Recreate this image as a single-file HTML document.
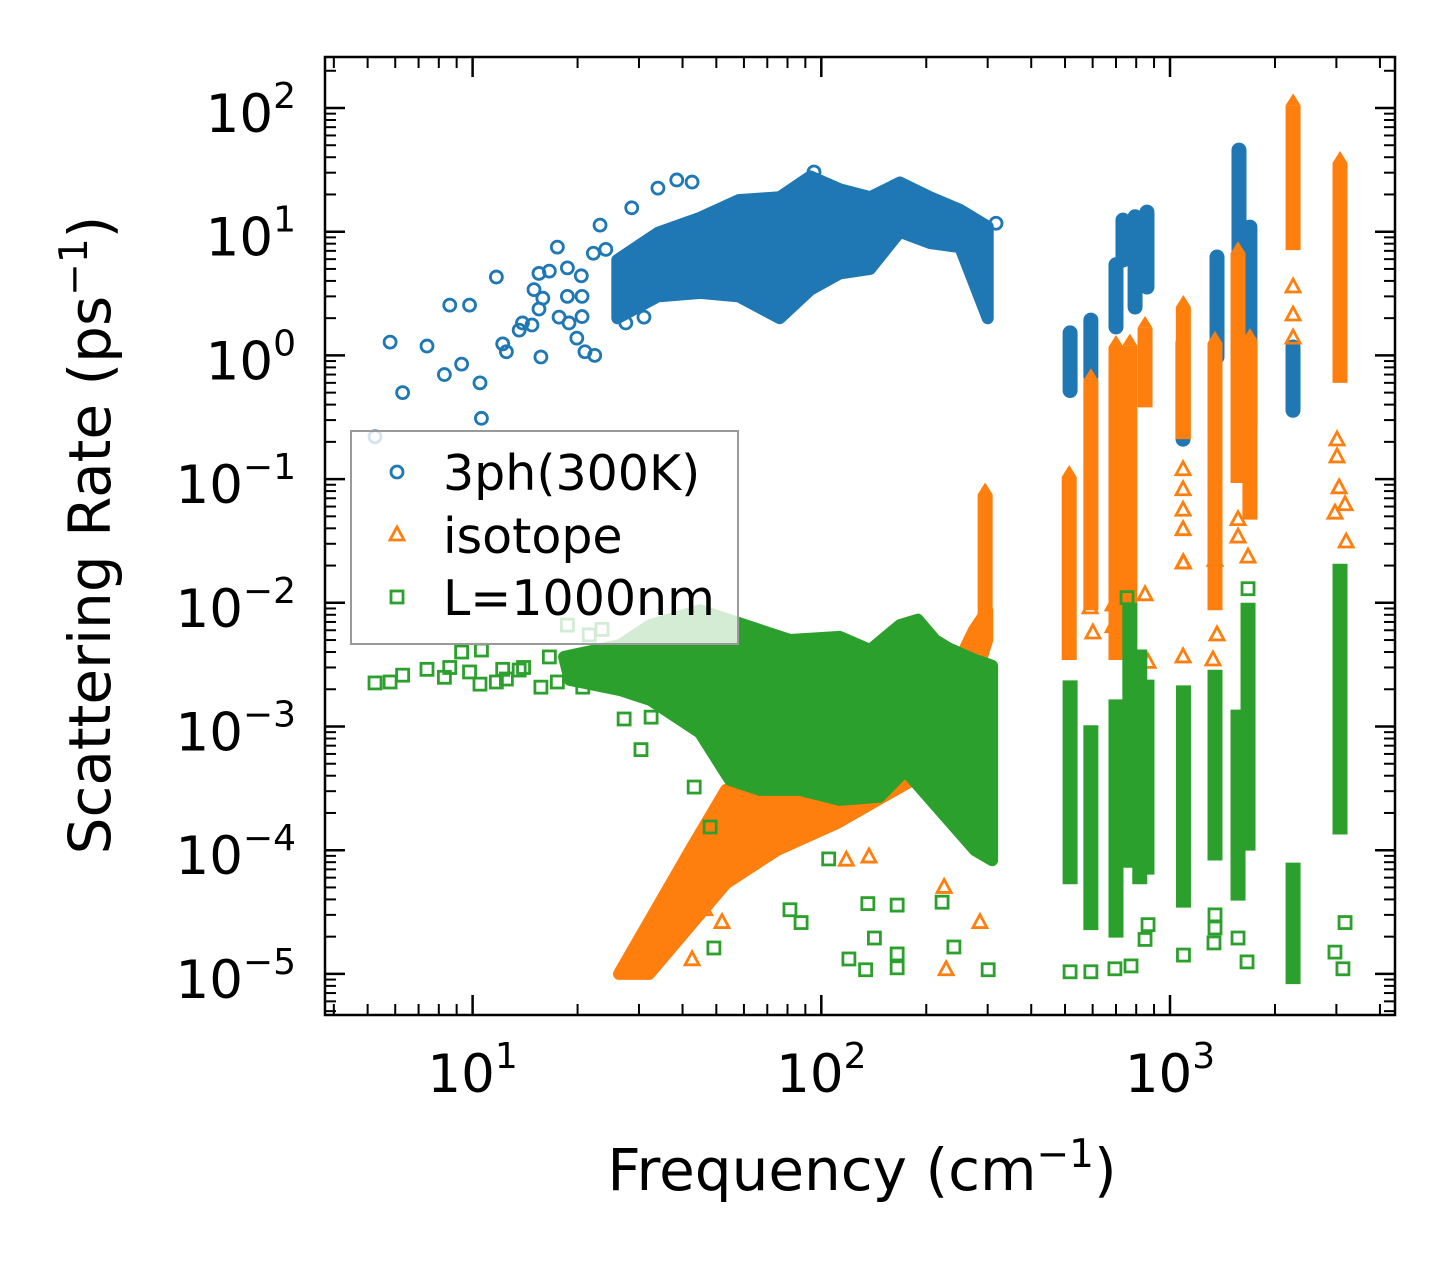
<!DOCTYPE html>
<html><head><meta charset="utf-8"><title>Scattering rate chart</title>
<style>html,body{margin:0;padding:0;background:#fff;}svg{display:block;font-family:"DejaVu Sans","Liberation Sans",sans-serif;}</style>
</head><body>
<svg id="chart" width="1455" height="1265" viewBox="0 0 1455 1265" xmlns="http://www.w3.org/2000/svg">
<defs><clipPath id="plotclip"><rect x="325" y="57" width="1070" height="958"/></clipPath></defs>
<rect x="0" y="0" width="1455" height="1265" fill="#fff"/>
<g id="marks" clip-path="url(#plotclip)"></g>
<g id="axes"></g>
<g id="legend"></g>
<text x="862" y="1190" text-anchor="middle" font-size="58">Frequency (cm<tspan font-size="39" dy="-23">−1</tspan><tspan dy="23">)</tspan></text>
<text transform="translate(110,535) rotate(-90)" text-anchor="middle" font-size="58">Scattering Rate (ps<tspan font-size="39" dy="-23">−1</tspan><tspan dy="23">)</tspan></text>
</svg>
<script>
// ---- axis tick data ----
const xTickExps = [1, 2, 3];
const yTickExps = [2, 1, 0, -1, -2, -3, -4, -5];
// ---- 3ph(300K) scattered points ----
const blueFreq = [5.8,6.3,7.4,8.3,8.6,9.3,9.8,10.5,10.6,11.7,12.2,12.5,13.6,13.9,14.8,15.0,15.5,15.5,15.7,15.9,16.6,17.5,17.7,18.7,18.7,18.9,19.9,20.5,20.6,20.6,21.0,22.2,22.4,23.2,24.1,28.6,34.0,38.5,27.5,31.0,42.6,95.3,317,5.25];
const blueRate = [1.28,0.50,1.19,0.70,2.55,0.85,2.55,0.60,0.31,4.3,1.24,1.07,1.6,1.83,1.76,3.4,2.37,4.6,0.97,2.9,4.8,7.5,2.04,5.1,3.0,1.83,1.38,4.4,3.0,2.06,1.07,6.7,1.0,11.3,7.2,15.6,22.5,26.2,1.83,2.04,25.2,30.4,11.7,0.22];
// ---- 3ph dense cloud envelope ----
const blueCloudFreq = [26,34,45,58,76,93,113,138,168,205,250,300];
const blueCloudTop = [5.9,9.8,13,18,19,28,22,19,25,19,15,11];
const blueCloudBottom = [2.0,3.0,3.2,3.0,2.0,3.4,4.6,5.0,10,8.1,7.5,2.0];
// ---- 3ph high-frequency bands ----
const blueBandFreq = [517,593,700,733,794,859,1090,1364,1577,1695,2253,3073];
const blueBandLo = [0.52,0.67,1.70,5.9,2.46,3.57,0.21,0.97,0.52,0.28,0.36,0.97];
const blueBandHi = [1.52,1.93,5.4,12.4,13.2,14.4,1.26,6.25,45.7,10.9,1.17,15.8];
// ---- isotope points ----
const orangeFreq = [2254,2254,2254,1090,1090,1090,1090,1093,1567,1567,3054,2972,3177,3200,1346,1674,3013,3013,601,590,687,687,865,848,1364,1328,1090,1090,34.9,39.1,42.6,46.3,51.9,137,118,225,228,285];
const orangeRate = [3.57,2.12,1.38,0.119,0.082,0.056,0.039,0.021,0.047,0.034,0.085,0.053,0.062,0.031,0.022,0.0234,0.207,0.151,0.0057,0.0091,0.0096,0.0064,0.0033,0.0116,0.0055,0.00345,0.00365,0.021,1.65e-5,2.26e-5,1.3e-5,3.3e-5,2.6e-5,8.8e-5,8.3e-5,5.0e-5,1.08e-5,2.6e-5];
// ---- isotope dense wedge ----
const orangeCloudFreq = [26.3,42.6,53.3,74.6,111,189,219,274,299];
const orangeCloudTop = [1.0e-5,1.06e-4,3.07e-4,3.07e-4,3.24e-4,9.9e-4,1.64e-3,6.0e-3,8.7e-3];
const orangeCloudBottomFreq = [32.1,53.3,74.6,111,189,219,274,299];
const orangeCloudBottom = [1.0e-5,5.4e-5,1.0e-4,1.66e-4,3.9e-4,6.5e-4,2.25e-3,5.0e-3];
// ---- isotope bands ----
const orangeBandFreq = [295,514,593,700,767,848,1092,1346,1567,1695,2254,3073];
const orangeBandLo = [0.005,0.00345,0.0087,0.00345,0.0047,0.38,0.21,0.0087,0.093,0.047,7.1,0.6];
const orangeBandHi = [0.075,0.104,0.63,1.17,1.2,1.67,2.46,1.26,6.7,1.33,105,35.9];
// ---- L=1000nm points ----
const greenFreq = [5.25,5.8,6.3,7.4,8.3,8.6,9.3,9.8,10.5,10.6,11.7,12.2,12.5,13.6,14.0,15.7,16.6,17.5,18.7,20.7,21.6,23.5,30.4,27.2,32.5,43.2,48.0,49.2,105,142,120,134,165,165,240,301,87.5,81.3,136,165,222,517,593,695,773,848,865,1093,1337,1346,1346,1567,1663,2972,3133,1674,753,3177];
const greenRate = [2.25e-3,2.29e-3,2.6e-3,2.9e-3,2.5e-3,3.0e-3,4.0e-3,2.76e-3,2.2e-3,4.15e-3,2.29e-3,2.9e-3,2.42e-3,2.86e-3,3.0e-3,2.08e-3,3.65e-3,2.29e-3,6.6e-3,2.08e-3,5.5e-3,6.1e-3,6.5e-4,1.15e-3,1.19e-3,3.24e-4,1.54e-4,1.62e-5,8.5e-5,1.95e-5,1.32e-5,1.08e-5,1.12e-5,1.45e-5,1.65e-5,1.08e-5,2.6e-5,3.3e-5,3.7e-5,3.6e-5,3.8e-5,1.04e-5,1.04e-5,1.1e-5,1.16e-5,1.9e-5,2.5e-5,1.42e-5,1.78e-5,2.35e-5,3.0e-5,1.95e-5,1.25e-5,1.5e-5,1.1e-5,1.3e-2,1.1e-2,2.6e-5];
// ---- L=1000nm dense cloud envelope ----
const greenCloudTopFreq = [18.3,26.5,32.3,44.9,60.4,81.3,113,138,168,189,212,231,276,309];
const greenCloudTop = [3.65e-3,4.56e-3,6.6e-3,8.7e-3,6.6e-3,5.0e-3,5.3e-3,4.15e-3,6.6e-3,7.3e-3,5.0e-3,4.3e-3,3.45e-3,3.1e-3];
const greenCloudBottomFreq = [19.0,26.5,32.3,44.9,54.7,66.7,86.9,113,147,174,219,276,309];
const greenCloudBottom = [2.38e-3,1.97e-3,1.64e-3,8.9e-4,3.7e-4,3.07e-4,3.07e-4,2.55e-4,2.7e-4,4.4e-4,2.1e-4,1.0e-4,8.3e-5];
// ---- L=1000nm bands ----
const greenBandFreq = [517,593,700,767,819,859,1093,1346,1567,1674,2254,3073];
const greenBandLo = [6.1e-5,2.6e-5,2.26e-5,8.3e-5,6.1e-5,7.3e-5,3.95e-5,9.5e-5,4.5e-5,1.14e-4,0.95e-5,1.54e-4];
const greenBandHi = [2.05e-3,8.9e-4,1.44e-3,8.7e-3,3.65e-3,2.08e-3,1.87e-3,2.5e-3,1.19e-3,8.7e-3,6.9e-5,1.8e-2];

const NS = 'http://www.w3.org/2000/svg';
const X0 = 472.6, XD = 348.7, Y0 = 108, YD = 123.7;
function xPix(f){ return X0 + (Math.log10(f) - 1) * XD; }
function yPix(r){ return Y0 + (2 - Math.log10(r)) * YD; }
function mk(tag, attrs, parent){ const e = document.createElementNS(NS, tag); for (const k in attrs) e.setAttribute(k, attrs[k]); parent.appendChild(e); return e; }
const C = {blue:'#1f77b4', orange:'#ff7f0e', green:'#2ca02c'};
const marks = document.getElementById('marks');

function circleMark(x, y, g){ return mk('circle', {cx:x, cy:y, r:6, fill:'none', stroke:C.blue, 'stroke-width':2.8}, g); }
function triMark(x, y, g){ return mk('path', {d:`M${x},${y-8} L${x+7},${y+5} L${x-7},${y+5} Z`, fill:'none', stroke:C.orange, 'stroke-width':2.8, 'stroke-linejoin':'miter'}, g); }
function sqMark(x, y, g){ return mk('rect', {x:x-6, y:y-6, width:12, height:12, fill:'none', stroke:C.green, 'stroke-width':2.8}, g); }

function cloud(fT, top, fB, bot, color, g){
  let d = '';
  for (let i = 0; i < fT.length; i++) d += (i ? 'L' : 'M') + xPix(fT[i]).toFixed(1) + ',' + yPix(top[i]).toFixed(1);
  for (let i = fB.length - 1; i >= 0; i--) d += 'L' + xPix(fB[i]).toFixed(1) + ',' + yPix(bot[i]).toFixed(1);
  d += 'Z';
  return mk('path', {d:d, fill:color, stroke:color, 'stroke-width':12, 'stroke-linejoin':'round'}, g);
}
function bands(freq, lo, hi, color, cap, g, name){
  for (let i = 0; i < freq.length; i++){
    const x = xPix(freq[i]);
    const b = mk('line', {x1:x, x2:x, y1:yPix(lo[i]), y2:yPix(hi[i]), stroke:color, 'stroke-width':15, 'stroke-linecap':cap}, g);
    
    
  }
}

// 3ph series
const gBlue = mk('g', {}, marks);


const bc = cloud(blueCloudFreq, blueCloudTop, blueCloudFreq, blueCloudBottom, C.blue, gBlue);


bands(blueBandFreq, blueBandLo, blueBandHi, C.blue, 'round', gBlue, '3ph-band');
for (let i = 0; i < blueFreq.length; i++){
  const p = circleMark(xPix(blueFreq[i]), yPix(blueRate[i]), gBlue);
  
  
}
// isotope series
const gOr = mk('g', {}, marks);


const oc = cloud(orangeCloudFreq, orangeCloudTop, orangeCloudBottomFreq, orangeCloudBottom, C.orange, gOr);


bands(orangeBandFreq, orangeBandLo, orangeBandHi, C.orange, 'butt', gOr, 'isotope-band');
for (let i = 0; i < orangeBandFreq.length; i++){
  const t = mk('path', {d:`M${xPix(orangeBandFreq[i])},${yPix(orangeBandHi[i])-12} l7.5,12 l-15,0 Z`, fill:C.orange}, gOr);
  
  
}
for (let i = 0; i < orangeFreq.length; i++){
  const p = triMark(xPix(orangeFreq[i]), yPix(orangeRate[i]), gOr);
  
  
}
// L=1000nm series
const gGr = mk('g', {}, marks);


const gc = cloud(greenCloudTopFreq, greenCloudTop, greenCloudBottomFreq, greenCloudBottom, C.green, gGr);


bands(greenBandFreq, greenBandLo, greenBandHi, C.green, 'square', gGr, 'l1000nm-band');
for (let i = 0; i < greenFreq.length; i++){
  const p = sqMark(xPix(greenFreq[i]), yPix(greenRate[i]), gGr);
  
  
}

// axes
const axes = document.getElementById('axes');
const L = 325, R = 1395, T = 57, B = 1015;
const frame = mk('rect', {x:L, y:T, width:R-L, height:B-T, fill:'none', stroke:'#000', 'stroke-width':2.5}, axes);


function tick(x1,y1,x2,y2,w){ return mk('line', {x1:x1,y1:y1,x2:x2,y2:y2,stroke:'#000','stroke-width':w}, axes); }
for (let e = 0; e <= 3; e++){
  for (let m = 1; m <= 9; m++){
    const x = xPix(m * Math.pow(10, e));
    if (x < L || x > R) continue;
    const len = m === 1 ? 20 : 11, w = m === 1 ? 2.5 : 2;
    const t1 = tick(x, B, x, B-len, w);
    
    
    const t2 = tick(x, T, x, T+len, w);
    
    
  }
}
for (let i = 0; i < xTickExps.length; i++){
  const tx = mk('text', {x:xPix(Math.pow(10, xTickExps[i])), y:1092, 'text-anchor':'middle', 'font-size':53}, axes);
  
  
  tx.innerHTML = '10<tspan font-size="36" dy="-24">' + xTickExps[i] + '</tspan>';
}
for (let e = -6; e <= 2; e++){
  for (let m = 1; m <= 9; m++){
    const y = yPix(m * Math.pow(10, e));
    if (y < T || y > B) continue;
    const len = m === 1 ? 20 : 11, w = m === 1 ? 2.5 : 2;
    const t1 = tick(L, y, L+len, y, w);
    
    
    const t2 = tick(R, y, R-len, y, w);
    
    
  }
}
for (let i = 0; i < yTickExps.length; i++){
  const ex = yTickExps[i];
  const ty = mk('text', {x:296, y:yPix(Math.pow(10, ex)) + 24, 'text-anchor':'end', 'font-size':53}, axes);
  
  
  ty.innerHTML = '10<tspan font-size="36" dy="-24">' + (ex < 0 ? '−' + (-ex) : ex) + '</tspan>';
}

// legend
const lg = document.getElementById('legend');
const box = mk('rect', {x:351, y:431, width:387, height:213, fill:'#fff', 'fill-opacity':0.8, stroke:'#999', 'stroke-width':2}, lg);


const legLabels = ['3ph(300K)', 'isotope', 'L=1000nm'];
const legY = [472, 535, 597];
const legFns = [circleMark, triMark, sqMark];
for (let i = 0; i < 3; i++){
  const m = legFns[i](397, legY[i], lg);
  
  
  const t = mk('text', {x:443, y:legY[i] + 18, 'font-size':49}, lg);
  
  
  t.textContent = legLabels[i];
}
</script>
</body></html>
